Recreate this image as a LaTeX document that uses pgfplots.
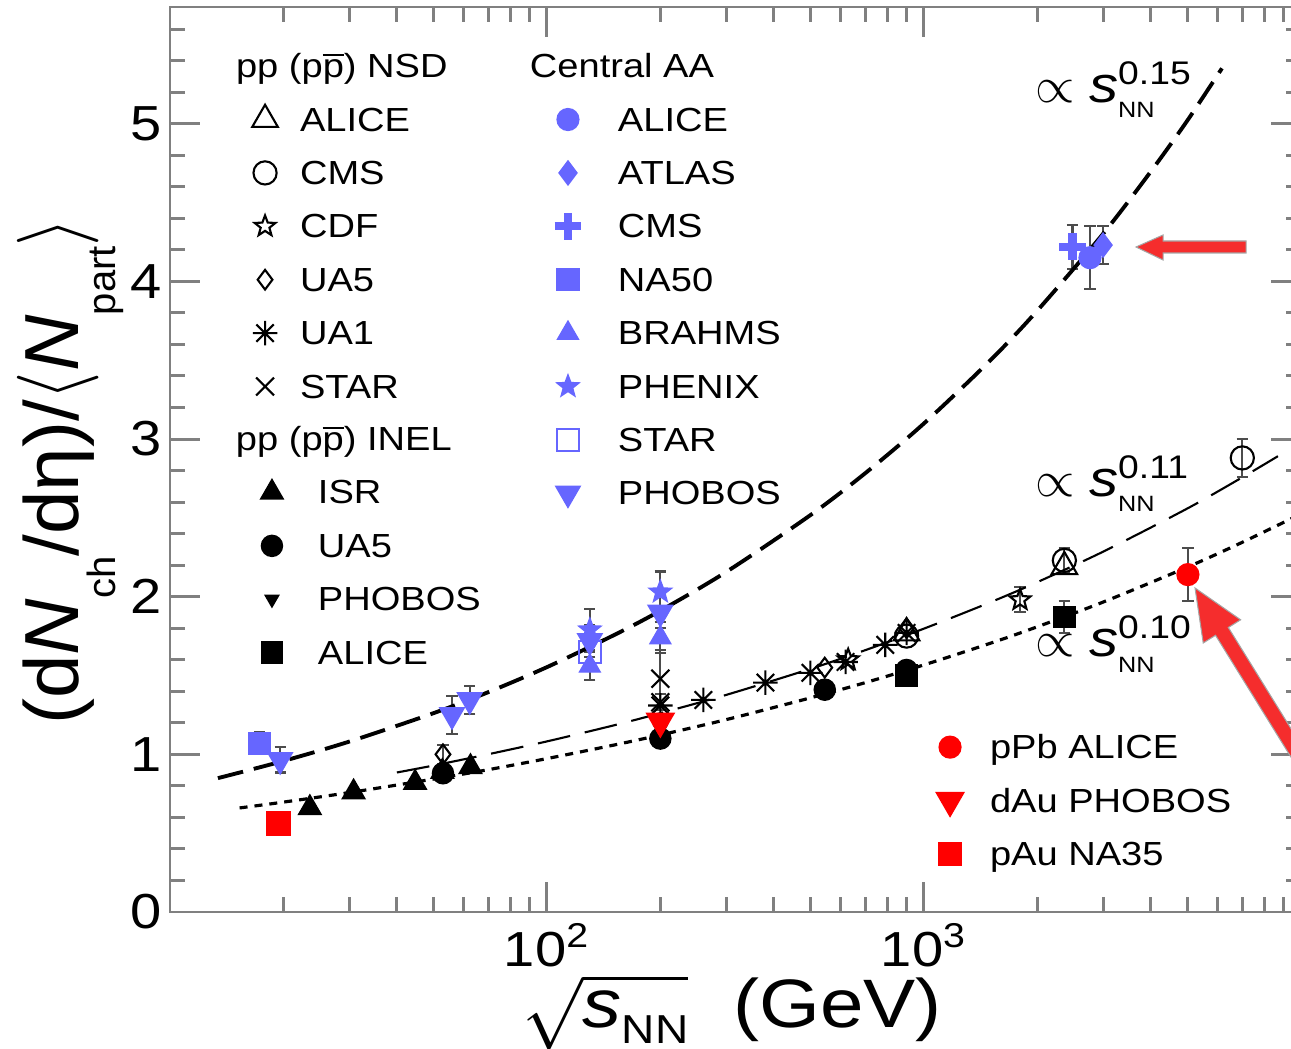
\documentclass[border=0pt]{standalone}
\usepackage{amsmath}
\usepackage{graphicx}
\usepackage{fontspec}
\setmainfont{Liberation Sans}[FakeStretch=1.14]
\usepackage{pgfplots}
\pgfplotsset{compat=1.18}
\definecolor{aablue}{RGB}{102,102,255}
\definecolor{ared}{RGB}{255,0,0}
\definecolor{arrred}{RGB}{245,45,45}
\newcommand\legfont{\fontsize{9.5}{11}\selectfont}
\newcommand\prop[1]{{\fontsize{14.5}{17}\selectfont$\propto$\hspace{1.4mm}\textit{s}\raisebox{-4.3pt}{\fontsize{6.3}{7}\selectfont\rlap{NN}}\raisebox{5.1pt}{\fontsize{9.3}{10}\selectfont #1}}}

\pgfdeclareplotmark{ostar}{%
 \pgfpathmoveto{\pgfpointpolar{90}{\pgfplotmarksize}}%
 \pgfpathlineto{\pgfpointpolar{126}{0.42\pgfplotmarksize}}%
 \pgfpathlineto{\pgfpointpolar{162}{\pgfplotmarksize}}%
 \pgfpathlineto{\pgfpointpolar{198}{0.42\pgfplotmarksize}}%
 \pgfpathlineto{\pgfpointpolar{234}{\pgfplotmarksize}}%
 \pgfpathlineto{\pgfpointpolar{270}{0.42\pgfplotmarksize}}%
 \pgfpathlineto{\pgfpointpolar{306}{\pgfplotmarksize}}%
 \pgfpathlineto{\pgfpointpolar{342}{0.42\pgfplotmarksize}}%
 \pgfpathlineto{\pgfpointpolar{18}{\pgfplotmarksize}}%
 \pgfpathlineto{\pgfpointpolar{54}{0.42\pgfplotmarksize}}%
 \pgfpathclose\pgfusepathqstroke}
\pgfdeclareplotmark{fstar}{%
 \pgfpathmoveto{\pgfpointpolar{90}{\pgfplotmarksize}}%
 \pgfpathlineto{\pgfpointpolar{126}{0.42\pgfplotmarksize}}%
 \pgfpathlineto{\pgfpointpolar{162}{\pgfplotmarksize}}%
 \pgfpathlineto{\pgfpointpolar{198}{0.42\pgfplotmarksize}}%
 \pgfpathlineto{\pgfpointpolar{234}{\pgfplotmarksize}}%
 \pgfpathlineto{\pgfpointpolar{270}{0.42\pgfplotmarksize}}%
 \pgfpathlineto{\pgfpointpolar{306}{\pgfplotmarksize}}%
 \pgfpathlineto{\pgfpointpolar{342}{0.42\pgfplotmarksize}}%
 \pgfpathlineto{\pgfpointpolar{18}{\pgfplotmarksize}}%
 \pgfpathlineto{\pgfpointpolar{54}{0.42\pgfplotmarksize}}%
 \pgfpathclose\pgfusepathqfillstroke}
\pgfdeclareplotmark{ast8}{%
 \pgfpathmoveto{\pgfpointpolar{0}{\pgfplotmarksize}}\pgfpathlineto{\pgfpointpolar{180}{\pgfplotmarksize}}%
 \pgfpathmoveto{\pgfpointpolar{90}{\pgfplotmarksize}}\pgfpathlineto{\pgfpointpolar{270}{\pgfplotmarksize}}%
 \pgfpathmoveto{\pgfpointpolar{45}{\pgfplotmarksize}}\pgfpathlineto{\pgfpointpolar{225}{\pgfplotmarksize}}%
 \pgfpathmoveto{\pgfpointpolar{135}{\pgfplotmarksize}}\pgfpathlineto{\pgfpointpolar{315}{\pgfplotmarksize}}%
 \pgfusepathqstroke}

\pgfplotsset{
 nsdA/.style={only marks, black, mark=triangle, mark size=4.2pt, mark options={solid, line width=0.6pt}},
 nsdC/.style={only marks, black, mark=o, mark size=3.3pt, mark options={solid, line width=0.6pt}},
 nsdCDF/.style={only marks, black, mark=ostar, mark size=3.1pt, mark options={solid, line width=0.6pt}},
 nsdU5/.style={only marks, black, mark=diamond, mark size=2.8pt, mark options={solid, line width=0.6pt}},
 nsdU1/.style={only marks, black, mark=ast8, mark size=3.5pt, mark options={solid, line width=0.6pt}},
 nsdSTAR/.style={only marks, black, mark=x, mark size=3.6pt, mark options={solid, line width=0.6pt}},
 inISR/.style={only marks, black, mark=triangle*, mark size=3.7pt, mark options={solid}},
 inU5/.style={only marks, black, mark=*, mark size=3pt, mark options={solid}},
 inPH/.style={only marks, black, mark=triangle*, mark size=2.2pt, mark options={solid, rotate=180}},
 inAL/.style={only marks, black, mark=square*, mark size=3pt, mark options={solid}},
 aaAL/.style={only marks, aablue, mark=*, mark size=3.1pt, mark options={solid}},
 aaAT/.style={only marks, aablue, mark=diamond*, mark size=3.4pt, mark options={solid}},
 aaCMS/.style={only marks, aablue, mark=+, mark size=3.8pt, mark options={solid, line width=2.3pt}},
 aaNA/.style={only marks, aablue, mark=square*, mark size=3.1pt, mark options={solid}},
 aaBR/.style={only marks, aablue, mark=triangle*, mark size=3.4pt, mark options={solid}},
 aaPHX/.style={only marks, aablue, mark=fstar, mark size=3.3pt, mark options={solid}},
 aaSTAR/.style={only marks, aablue, mark=square, mark size=3.1pt, mark options={solid, line width=0.6pt}},
 aaPHO/.style={only marks, aablue, mark=triangle*, mark size=4pt, mark options={solid, rotate=180}},
 rPb/.style={only marks, ared, mark=*, mark size=3.1pt, mark options={solid}},
 rdAu/.style={only marks, ared, mark=triangle*, mark size=4.5pt, mark options={solid, rotate=180}},
 rpAu/.style={only marks, ared, mark=square*, mark size=3.3pt, mark options={solid}},
 errb/.style={error bars/.cd, y dir=both, y explicit,
   error bar style={line width=0.6pt, black!70, solid},
   error mark options={rotate=90, mark size=1.6pt, line width=0.6pt, black!70, solid}},
 legax/.style={at={(0,0)}, anchor=south west, scale only axis,
   width=113.07mm, height=90.5mm, xmin=0, xmax=1, ymin=0, ymax=1, hide axis,
   legend style={draw=none, fill=none, inner sep=0pt, outer sep=0pt, anchor=north west,
     row sep=1.74mm, font=\legfont,
     nodes={inner sep=0pt, text height=2.7mm, text depth=0.9mm},
     cells={anchor=base west}},
   legend image code/.code={\path[draw=none, fill=none] (-1.5mm,-0.9mm) rectangle (1.5mm,2.7mm);
     \draw[##1] plot coordinates {(0mm,1.15mm)};}},
}

\begin{document}
\begin{tikzpicture}
\useasboundingbox (-17mm,-13.6mm) rectangle (112.1mm,91.2mm);
\begin{pgfinterruptboundingbox}
\begin{axis}[
 at={(0,0)}, anchor=south west,
 scale only axis, width=113.07mm, height=90.5mm,
 xmode=log, xmin=10, xmax=10000, ymin=0, ymax=5.74,
 xtick={10,100,1000,10000},
 xticklabels={,10\textsuperscript{2},10\textsuperscript{3},},
 minor xtick={20,30,40,50,60,70,80,90,200,300,400,500,600,700,800,900,2000,3000,4000,5000,6000,7000,8000,9000},
 ytick={0,1,2,3,4,5},
 minor ytick={0.2,0.4,0.6,0.8,1.2,1.4,1.6,1.8,2.2,2.4,2.6,2.8,3.2,3.4,3.6,3.8,4.2,4.4,4.6,4.8,5.2,5.4,5.6},
 tick align=inside, major tick length=3mm, minor tick length=1.5mm,
 axis line style={draw=gray, line width=0.85pt},
 every tick/.style={gray, line width=0.85pt},
 tick label style={font=\fontsize{14}{16}\selectfont},
 /pgf/number format/assume math mode=true,
 yticklabel style={inner sep=0pt, xshift=-0.8mm},
 xticklabel style={inner sep=0pt, yshift=-1.1mm},
 xlabel={$\sqrt{\text{\textit{s}\raisebox{-4.5pt}{\fontsize{11.5}{12}\selectfont NN}}}$\hspace{4.5mm}(GeV)},
 xlabel style={at={(axis description cs:0.497,-0.111)}, anchor=center, font=\fontsize{19.5}{23}\selectfont, inner sep=0pt},
 ylabel={\scalebox{1}[1.12]{(d\textit{N}\raisebox{-9.5pt}{\fontsize{10}{11}\selectfont ch}/dη)/$\langle$\textit{N}\raisebox{-9.5pt}{\fontsize{10}{11}\selectfont part}$\rangle$}},
 ylabel style={at={(axis description cs:-0.088,0.487)}, anchor=center, font=\fontsize{19.5}{23}\selectfont, inner sep=0pt},
]
% Central AA
\addplot[aaNA, errb] coordinates {(17.3,1.07) +- (0,0.07)};
\addplot[aaPHO, errb] coordinates {(19.6,0.965) +- (0,0.08) (56,1.25) +- (0,0.12) (62.4,1.345) +- (0,0.09) (130,1.72) +- (0,0.1) (200,1.90) +- (0,0.1)};
\addplot[aaSTAR, errb] coordinates {(130,1.65) +- (0,0.1)};
\addplot[aaBR, errb] coordinates {(130,1.56) +- (0,0.09) (200,1.74) +- (0,0.1)};
\addplot[aaPHX, errb] coordinates {(130,1.79) +- (0,0.13) (200,2.03) +- (0,0.13)};
\addplot[aaAL, errb] coordinates {(2760,4.15) +- (0,0.2)};
\addplot[aaCMS, errb] coordinates {(2480,4.22) +- (0,0.14)};
\addplot[aaAT, errb] coordinates {(2990,4.23) +- (0,0.12)};
% pp NSD
\addplot[nsdU5, errb] coordinates {(53,1.00) +- (0,0.06)};
\addplot[nsdU5] coordinates {(546,1.55) (900,1.80)};
\addplot[nsdU1] coordinates {(200,1.31) (260,1.345) (380,1.455) (500,1.517) (620,1.586) (790,1.694) (900,1.77)};
\addplot[nsdSTAR, errb] coordinates {(200,1.48) +- (0,0.18) (200,1.33) +- (0,0.05)};
\addplot[nsdCDF] coordinates {(630,1.60)};
\addplot[nsdCDF, errb] coordinates {(1800,1.98) +- (0,0.08)};
\addplot[nsdA] coordinates {(900,1.77) (2360,2.19)};
\addplot[nsdC] coordinates {(900,1.75)};
\addplot[nsdC, errb] coordinates {(2360,2.23) +- (0,0.08) (7000,2.88) +- (0,0.12)};
% pp INEL
\addplot[inISR] coordinates {(23.5,0.66) (30.7,0.76) (44.7,0.82) (52.8,0.89) (62.7,0.92)};
\addplot[inU5] coordinates {(53,0.88) (200,1.10) (546,1.41) (900,1.535)};
\addplot[inPH] coordinates {(200,1.16)};
\addplot[inAL] coordinates {(900,1.50)};
\addplot[inAL, errb] coordinates {(2360,1.87) +- (0,0.1)};
% p/d-nucleus
\addplot[rpAu] coordinates {(19.4,0.56)};
\addplot[rdAu] coordinates {(200,1.21)};
\addplot[rPb, errb] coordinates {(5020,2.14) +- (0,0.17)};
% fits
\addplot[black, line width=1.1pt, dash pattern=on 2.6mm off 1.1mm, smooth] coordinates {
 (13.4,0.849) (20,0.958) (30,1.082) (50,1.261) (70,1.395) (100,1.553) (150,1.754) (200,1.911)
 (300,2.159) (500,2.517) (700,2.784) (1000,3.098) (1500,3.498) (2000,3.814) (3000,4.306)
 (4000,4.696) (5000,5.019) (6180,5.351)};
\addplot[black, line width=0.6pt, dash pattern=on 3.3mm off 1.5mm, smooth] coordinates {
 (40,0.885) (50,0.929) (70,1.001) (100,1.082) (150,1.183) (200,1.261) (300,1.378) (500,1.542)
 (700,1.661) (1000,1.797) (1500,1.964) (2000,2.092) (3000,2.287) (5000,2.559) (7000,2.757) (8700,2.891)};
\addplot[black, line width=0.9pt, dash pattern=on 0.8mm off 0.7mm, smooth] coordinates {
 (15.3,0.660) (20,0.697) (30,0.758) (50,0.843) (70,0.903) (100,0.973) (150,1.058) (200,1.123)
 (300,1.221) (500,1.358) (700,1.455) (1000,1.567) (1500,1.704) (2000,1.809) (3000,1.967)
 (5000,2.187) (7000,2.345) (10000,2.524)};
% annotations
\node[anchor=base west, inner sep=0pt] at (axis cs:1974,5.133) {\prop{0.15}};
\node[anchor=base west, inner sep=0pt] at (axis cs:1974,2.633) {\prop{0.11}};
\node[anchor=base west, inner sep=0pt] at (axis cs:1974,1.618) {\prop{0.10}};
\end{axis}

% legend: pp NSD
\begin{axis}[legax, legend style={at={(0.0708,0.9518)}, column sep=2mm}]
\addlegendimage{empty legend}\addlegendentry{\hspace*{-6.4mm}pp (p$\overline{\text{p}}$) NSD}
\addlegendimage{nsdA}\addlegendentry{ALICE}
\addlegendimage{nsdC}\addlegendentry{CMS}
\addlegendimage{nsdCDF}\addlegendentry{CDF}
\addlegendimage{nsdU5}\addlegendentry{UA5}
\addlegendimage{nsdU1}\addlegendentry{UA1}
\addlegendimage{nsdSTAR}\addlegendentry{STAR}
\end{axis}
% legend: pp INEL
\begin{axis}[legax, legend style={at={(0.0769,0.5397)}, column sep=3.1mm}]
\addlegendimage{empty legend}\addlegendentry{\hspace*{-8.2mm}pp (p$\overline{\text{p}}$) INEL}
\addlegendimage{inISR}\addlegendentry{ISR}
\addlegendimage{inU5}\addlegendentry{UA5}
\addlegendimage{inPH}\addlegendentry{PHOBOS}
\addlegendimage{inAL}\addlegendentry{ALICE}
\end{axis}
% legend: central AA
\begin{axis}[legax, legend style={at={(0.3387,0.9518)}, column sep=3.5mm}]
\addlegendimage{empty legend}\addlegendentry{\hspace*{-8.8mm}Central AA}
\addlegendimage{aaAL}\addlegendentry{ALICE}
\addlegendimage{aaAT}\addlegendentry{ATLAS}
\addlegendimage{aaCMS}\addlegendentry{CMS}
\addlegendimage{aaNA}\addlegendentry{NA50}
\addlegendimage{aaBR}\addlegendentry{BRAHMS}
\addlegendimage{aaPHX}\addlegendentry{PHENIX}
\addlegendimage{aaSTAR}\addlegendentry{STAR}
\addlegendimage{aaPHO}\addlegendentry{PHOBOS}
\end{axis}
% legend: p/d-A
\begin{axis}[legax, legend style={at={(0.6766,0.1993)}, column sep=2.5mm}]
\addlegendimage{rPb}\addlegendentry{pPb ALICE}
\addlegendimage{rdAu}\addlegendentry{dAu PHOBOS}
\addlegendimage{rpAu}\addlegendentry{pAu NA35}
\end{axis}

\begin{scope}[x=0.1mm, y=-0.1mm, shift={(-170,-912)}]
\fill[arrred, draw=gray!70, line width=0.3pt] (1246,241) -- (1163,241) -- (1163,235) -- (1136,247) -- (1163,260) -- (1163,253) -- (1246,253) -- cycle;
\fill[arrred, draw=gray!70, line width=0.3pt] (1195,588) -- (1240.6,619.8) -- (1228.3,627.5) -- (1333.1,796.7) -- (1320.3,804.5) -- (1215.5,635.3) -- (1203.2,643.0) -- cycle;
\end{scope}
\end{pgfinterruptboundingbox}
\end{tikzpicture}
\end{document}
